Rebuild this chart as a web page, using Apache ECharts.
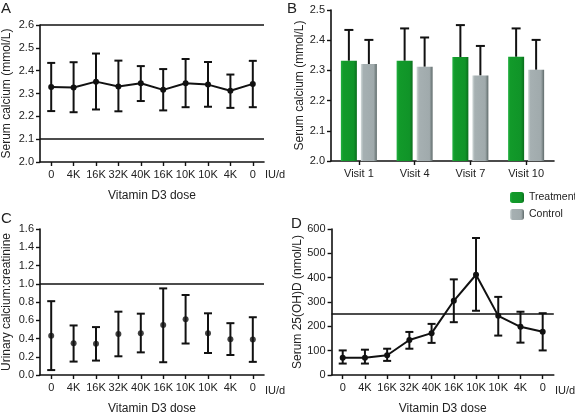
<!DOCTYPE html>
<html>
<head>
<meta charset="utf-8">
<script src="https://cdn.jsdelivr.net/npm/echarts@6/dist/echarts.min.js"></script>
<style>
html,body{margin:0;padding:0;background:#fff;}
#c{width:575px;height:416px;}
</style>
</head>
<body>
<div id="c"></div>
<script>
// ---------- data ----------
const doseLabels = ['0','4K','16K','32K','40K','16K','10K','10K','4K','0'];

// Panel A: serum calcium (mmol/L)
const caMean = [2.328, 2.326, 2.352, 2.331, 2.345, 2.316, 2.345, 2.339, 2.312, 2.342];
const caLow  = [2.223, 2.218, 2.230, 2.222, 2.267, 2.226, 2.240, 2.242, 2.237, 2.240];
const caHigh = [2.434, 2.437, 2.475, 2.444, 2.420, 2.407, 2.451, 2.438, 2.383, 2.443];
const caRefLines = [2.6, 2.1];

// Panel B: serum calcium by visit
const visits = ['Visit 1', 'Visit 4', 'Visit 7', 'Visit 10'];
const treatMean = [2.332, 2.332, 2.344, 2.345];
const treatHigh = [2.434, 2.439, 2.450, 2.439];
const ctrlMean  = [2.321, 2.312, 2.283, 2.302];
const ctrlHigh  = [2.401, 2.409, 2.381, 2.401];

// Panel C: urinary calcium:creatinine
const ucMean = [0.431, 0.347, 0.342, 0.449, 0.457, 0.547, 0.611, 0.457, 0.392, 0.388];
const ucLow  = [0.054, 0.147, 0.158, 0.205, 0.248, 0.140, 0.345, 0.241, 0.219, 0.144];
const ucHigh = [0.809, 0.543, 0.525, 0.694, 0.672, 0.949, 0.877, 0.676, 0.568, 0.633];
const ucRefLines = [1.0];

// Panel D: serum 25(OH)D (nmol/L)
const vdMean = [71, 71, 81, 144, 172, 305, 412, 243, 198, 178];
const vdLow  = [47, 47, 58, 108, 132, 217, 264, 162, 133, 101];
const vdHigh = [101, 104, 108, 177, 210, 393, 563, 321, 260, 254];
const vdRefLines = [250];

// ---------- helpers ----------
const FONT = "'Liberation Sans', Arial, Helvetica, sans-serif";
const chart = echarts.init(document.getElementById('c'), null, {renderer: 'canvas'});

function errData(low, high) { return low.map((l, i) => [i, l, high[i]]); }

function errRender(offsetPx, capHalf, drawLow) {
  return function (params, api) {
    const i = api.value(0);
    const lo = api.coord([i, api.value(1)]);
    const hi = api.coord([i, api.value(2)]);
    const x = lo[0] + offsetPx;
    const st = {stroke: '#111', lineWidth: 2};
    const children = [
      {type: 'line', shape: {x1: x, y1: lo[1], x2: x, y2: hi[1]}, style: st},
      {type: 'line', shape: {x1: x - capHalf, y1: hi[1], x2: x + capHalf, y2: hi[1]}, style: st}
    ];
    if (drawLow) children.push({type: 'line', shape: {x1: x - capHalf, y1: lo[1], x2: x + capHalf, y2: lo[1]}, style: st});
    return {type: 'group', children: children};
  };
}

function refLine(vals) {
  return {
    silent: true, symbol: 'none', label: {show: false},
    lineStyle: {color: '#111', width: 1.6, type: 'solid'},
    data: vals.map(v => ({yAxis: v}))
  };
}

const axisLineStyle = {show: true, lineStyle: {color: '#111', width: 1.6}};
const tickStyle = {show: true, length: 4, lineStyle: {color: '#111', width: 1.4}};
const labelStyle = {color: '#222', fontSize: 11, fontFamily: FONT};
const nameStyle = {color: '#222', fontSize: 12, fontFamily: FONT};

function catX(gridIndex, data, withName) {
  return {
    type: 'category', gridIndex: gridIndex, data: data, boundaryGap: true,
    axisLine: axisLineStyle, axisTick: Object.assign({alignWithLabel: true}, tickStyle),
    axisLabel: Object.assign({margin: 7, interval: 0}, labelStyle),
    name: withName ? 'Vitamin D3 dose' : '', nameLocation: 'middle', nameGap: 28,
    nameTextStyle: nameStyle, splitLine: {show: false}
  };
}

function valY(gridIndex, min, max, interval, decimals, name, nameGap) {
  return {
    type: 'value', gridIndex: gridIndex, min: min, max: max, interval: interval,
    axisLine: axisLineStyle, axisTick: tickStyle,
    axisLabel: Object.assign({margin: 6, formatter: v => v.toFixed(decimals)}, labelStyle),
    splitLine: {show: false},
    name: name, nameLocation: 'middle', nameGap: nameGap, nameTextStyle: nameStyle
  };
}

const greenGrad = new echarts.graphic.LinearGradient(0, 0, 1, 0, [
  {offset: 0, color: '#22b040'}, {offset: 0.15, color: '#129a2a'},
  {offset: 0.8, color: '#109428'}, {offset: 1, color: '#0a6e1c'}
]);
const greyGrad = new echarts.graphic.LinearGradient(0, 0, 1, 0, [
  {offset: 0, color: '#d2dada'}, {offset: 0.15, color: '#a6b0b2'},
  {offset: 0.8, color: '#a0aaac'}, {offset: 1, color: '#5f6b6b'}
]);

const option = {
  backgroundColor: '#fff',
  animation: false,
  textStyle: {fontFamily: FONT},
  grid: [
    {left: 40, top: 25, width: 224, height: 137},
    {left: 331, top: 10, width: 223, height: 151},
    {left: 40, top: 229, width: 224, height: 149},
    {left: 331.6, top: 229, width: 222.2, height: 149}
  ],
  xAxis: [
    catX(0, doseLabels, true),
    catX(1, visits, false),
    catX(2, doseLabels, true),
    catX(3, doseLabels, true)
  ],
  yAxis: [
    valY(0, 2.0, 2.6, 0.1, 1, 'Serum calcium (mmol/L)', 27),
    valY(1, 2.0, 2.5, 0.1, 1, 'Serum calcium (mmol/L)', 25),
    valY(2, 0, 1.6, 0.2, 1, 'Urinary calcium:creatinine', 27),
    valY(3, 0, 600, 100, 0, 'Serum 25(OH)D (nmol/L)', 27)
  ],
  legend: {
    orient: 'vertical', left: 505, top: 187, itemWidth: 14, itemHeight: 11, itemGap: 6,
    textStyle: {fontSize: 10.5, color: '#222', fontFamily: FONT},
    data: ['Treatment', 'Control']
  },
  series: [
    // A
    {type: 'line', xAxisIndex: 0, yAxisIndex: 0, data: caMean, symbol: 'circle', symbolSize: 6,
     itemStyle: {color: '#111'}, lineStyle: {color: '#111', width: 2}, z: 3,
     markLine: refLine(caRefLines)},
    {type: 'custom', xAxisIndex: 0, yAxisIndex: 0, data: errData(caLow, caHigh),
     renderItem: errRender(0, 4, true), z: 4},
    // B
    {type: 'bar', name: 'Treatment', xAxisIndex: 1, yAxisIndex: 1, data: treatMean,
     barWidth: 16, barGap: '25%', itemStyle: {color: greenGrad}},
    {type: 'bar', name: 'Control', xAxisIndex: 1, yAxisIndex: 1, data: ctrlMean,
     barWidth: 16, barGap: '25%', itemStyle: {color: greyGrad}},
    {type: 'custom', xAxisIndex: 1, yAxisIndex: 1, data: errData(treatMean, treatHigh),
     renderItem: errRender(-10, 4.5, false), z: 1},
    {type: 'custom', xAxisIndex: 1, yAxisIndex: 1, data: errData(ctrlMean, ctrlHigh),
     renderItem: errRender(10, 4.5, false), z: 1},
    // C
    {type: 'scatter', xAxisIndex: 2, yAxisIndex: 2, data: ucMean, symbol: 'circle', symbolSize: 6,
     itemStyle: {color: '#111'}, z: 3, markLine: refLine(ucRefLines)},
    {type: 'custom', xAxisIndex: 2, yAxisIndex: 2, data: errData(ucLow, ucHigh),
     renderItem: errRender(0, 4, true), z: 4},
    // D
    {type: 'line', xAxisIndex: 3, yAxisIndex: 3, data: vdMean, symbol: 'circle', symbolSize: 6,
     itemStyle: {color: '#111'}, lineStyle: {color: '#111', width: 2}, z: 3,
     markLine: refLine(vdRefLines)},
    {type: 'custom', xAxisIndex: 3, yAxisIndex: 3, data: errData(vdLow, vdHigh),
     renderItem: errRender(0, 4, true), z: 4}
  ],
  graphic: [
    {type: 'text', left: 1, top: 1, style: {text: 'A', fontSize: 15, fill: '#222', fontFamily: FONT}},
    {type: 'text', left: 287, top: 1, style: {text: 'B', fontSize: 15, fill: '#222', fontFamily: FONT}},
    {type: 'text', left: 1, top: 211, style: {text: 'C', fontSize: 15, fill: '#222', fontFamily: FONT}},
    {type: 'text', left: 291, top: 216, style: {text: 'D', fontSize: 15, fill: '#222', fontFamily: FONT}},
    {type: 'text', left: 265, top: 169, style: {text: 'IU/d', fontSize: 11, fill: '#222', fontFamily: FONT}},
    {type: 'text', left: 265, top: 385, style: {text: 'IU/d', fontSize: 11, fill: '#222', fontFamily: FONT}},
    {type: 'text', left: 555, top: 385, style: {text: 'IU/d', fontSize: 11, fill: '#222', fontFamily: FONT}}
  ]
};
chart.setOption(option);
</script>
</body>
</html>
